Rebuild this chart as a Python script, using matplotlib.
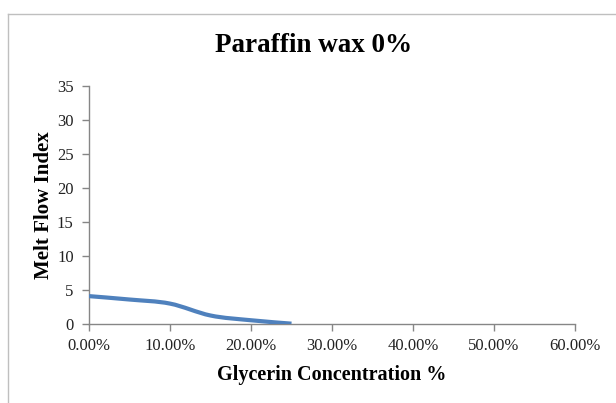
import numpy as np
import matplotlib.pyplot as plt
from matplotlib.path import Path
from matplotlib.patches import PathPatch
from matplotlib.lines import Line2D
from matplotlib.ticker import PercentFormatter


# =========================
# Data
# =========================

glycerin = [0.00, 0.05, 0.10, 0.15, 0.20, 0.25]
melt_flow = [4.1, 3.6, 3.0, 1.25, 0.55, 0.05]

x_ticks = [0.0, 0.1, 0.2, 0.3, 0.4, 0.5, 0.6]
y_ticks = [0, 5, 10, 15, 20, 25, 30, 35]


# =========================
# Smoothed line (Excel style bezier)
# =========================

def smooth_path(xs, ys):
    pts = np.column_stack([xs, ys])
    n = len(pts)
    verts = [pts[0]]
    codes = [Path.MOVETO]
    for i in range(n - 1):
        p0 = pts[i - 1] if i > 0 else pts[i]
        p1 = pts[i]
        p2 = pts[i + 1]
        p3 = pts[i + 2] if i + 2 < n else pts[i + 1]
        c1 = p1 + (p2 - p0) / 6.0
        c2 = p2 - (p3 - p1) / 6.0
        verts += [c1, c2, p2]
        codes += [Path.CURVE4] * 3
    return Path(verts, codes)


plt.rcParams["font.family"] = ["Liberation Serif", "DejaVu Serif"]

fig = plt.figure(figsize=(6.16, 4.03), dpi=100)
ax = fig.add_axes([89 / 616, 1 - 324 / 403, 486 / 616, 238 / 403])

line = PathPatch(
    smooth_path(glycerin, melt_flow),
    facecolor="none",
    edgecolor="#4F81BD",
    linewidth=3,
    capstyle="butt",
    zorder=3,
)
ax.add_patch(line)

ax.set_xlim(0, 0.6)
ax.set_ylim(0, 35)
ax.set_xticks(x_ticks)
ax.set_yticks(y_ticks)
ax.xaxis.set_major_formatter(PercentFormatter(xmax=1, decimals=2))

for side in ["top", "right"]:
    ax.spines[side].set_visible(False)
for side in ["left", "bottom"]:
    ax.spines[side].set_color("#868686")
    ax.spines[side].set_linewidth(1)

ax.tick_params(axis="both", colors="#868686", labelcolor="#222222",
               labelsize=12, length=5, width=1)
ax.tick_params(axis="x", pad=5)
ax.tick_params(axis="y", pad=6)

# title is centred on the chart area, not on the plot area
fig.text(314 / 616, 1 - 45 / 403, "Paraffin wax 0%", fontsize=19.5,
         fontweight="bold", ha="center", va="center")
ax.set_xlabel("Glycerin Concentration %", fontsize=14.5, fontweight="bold", labelpad=8)
ax.set_ylabel("Melt Flow Index", fontsize=15, fontweight="bold", labelpad=2)

# chart area border
fig.add_artist(Line2D([7.5 / 616, 7.5 / 616], [0, 1 - 14 / 403],
                      transform=fig.transFigure, color="#BFBFBF", linewidth=1))
fig.add_artist(Line2D([7.5 / 616, 1], [1 - 14 / 403, 1 - 14 / 403],
                      transform=fig.transFigure, color="#BFBFBF", linewidth=1))

fig.savefig("out.png", dpi=100)
